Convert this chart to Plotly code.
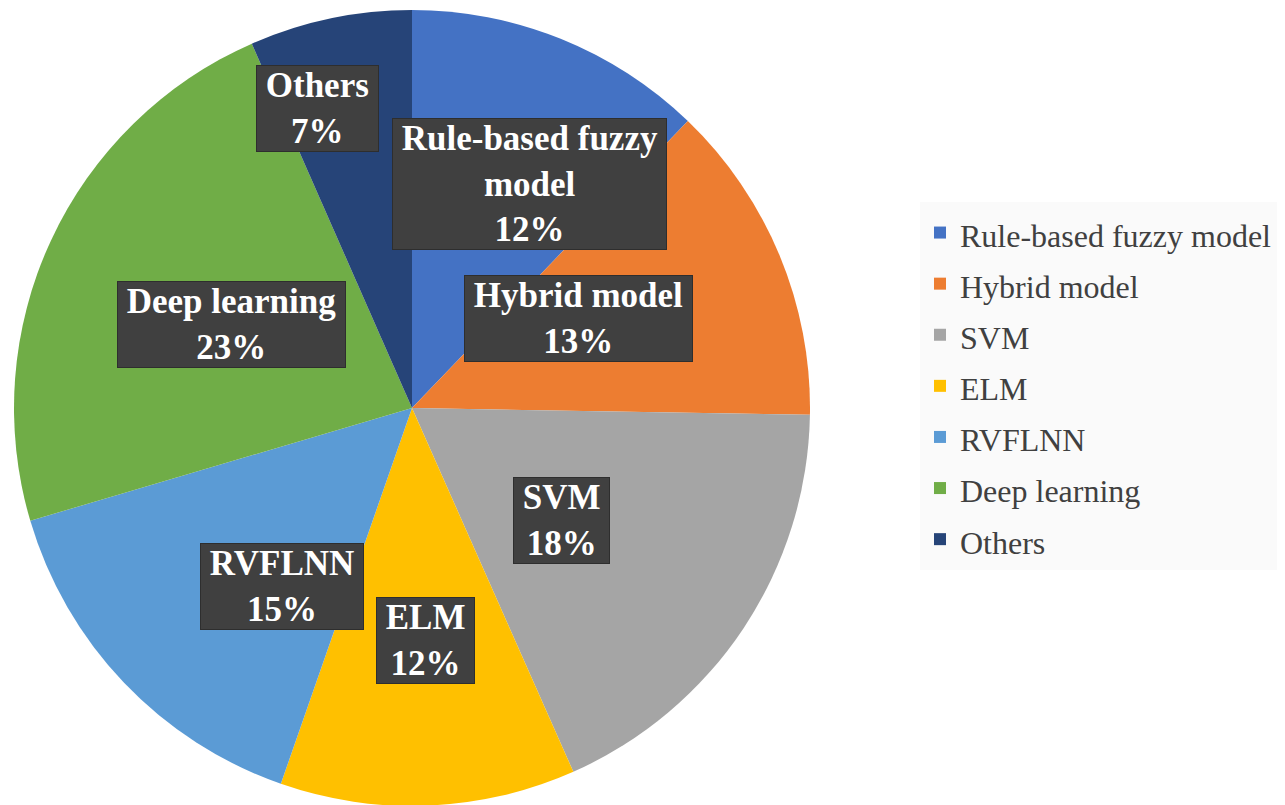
import math
import plotly.graph_objects as go

# ---- data ----
categories = ["Rule-based fuzzy model", "Hybrid model", "SVM", "ELM",
              "RVFLNN", "Deep learning", "Others"]
values = [12.2, 13.1, 18.1, 12.0, 15.1, 23.0, 6.6]
box_lines = [["Rule-based fuzzy", "model"], ["Hybrid model"], ["SVM"], ["ELM"],
             ["RVFLNN"], ["Deep learning"], ["Others"]]

# ---- style ----
colors = ["#4472C4", "#ED7D31", "#A5A5A5", "#FFC000", "#5B9BD5", "#70AD47", "#264478"]
W, H = 1285, 805
OFF = 8  # page body margin
label_rfrac = [0.635, 0.475, 0.47, 0.585, 0.555, 0.5, 0.79]
label_dang = [5.8, -5.6, 3.5, -1.1, -10.2, 0.0, -5.6]

R = 398
CX, CY = 412 - OFF, 408 - OFF  # pixel center inside the figure
dom_x = [(CX - R) / W, (CX + R) / W]
dom_y = [(H - CY - R) / H, (H - CY + R) / H]

legend_labels = [f'<span style="font-size:32px">{c}</span>' for c in categories]

fig = go.Figure(go.Pie(
    labels=legend_labels, values=values, sort=False, direction="clockwise",
    rotation=0, marker=dict(colors=colors, line=dict(width=0)),
    textinfo="none", customdata=categories,
    hovertemplate="%{customdata}: %{percent}<extra></extra>",
    domain=dict(x=dom_x, y=dom_y),
))

dw = (dom_x[1] - dom_x[0]) * W
dh = (dom_y[1] - dom_y[0]) * H
r = min(dw, dh) / 2
cx = (dom_x[0] + dom_x[1]) / 2 * W
cy = H - (dom_y[0] + dom_y[1]) / 2 * H

total = sum(values)
cum = 0.0
annotations = []
for i, v in enumerate(values):
    frac = v / total
    mid = (cum + frac / 2) * 360 + label_dang[i]
    cum += frac
    a = math.radians(mid)
    px = cx + r * label_rfrac[i] * math.sin(a)
    py = cy - r * label_rfrac[i] * math.cos(a)
    lines = box_lines[i] + [f"{frac * 100:.0f}%"]
    text = "<br>".join(f"&nbsp;{ln}&nbsp;" for ln in lines)
    annotations.append(dict(
        x=px / W, y=1 - py / H, text=text,
        xref="paper", yref="paper", showarrow=False,
        xanchor="center", yanchor="middle", borderpad=0, align="center",
        font=dict(family="Liberation Serif", size=35, color="white", weight="bold"),
        bgcolor="#404040", bordercolor="#2e2e2e", borderwidth=1))

fig.update_layout(
    width=W, height=H,
    margin=dict(l=0, r=0, t=0, b=0),
    paper_bgcolor="white",
    annotations=annotations,
    showlegend=True,
    legend=dict(
        x=(920 - OFF) / W, xanchor="left", y=1 - (386 - OFF) / H, yanchor="middle",
        bgcolor="#FAFAFA", font=dict(family="Liberation Serif", size=37, color="#404040"),
        traceorder="normal",
    ),
)

fig.write_html("out.html")
